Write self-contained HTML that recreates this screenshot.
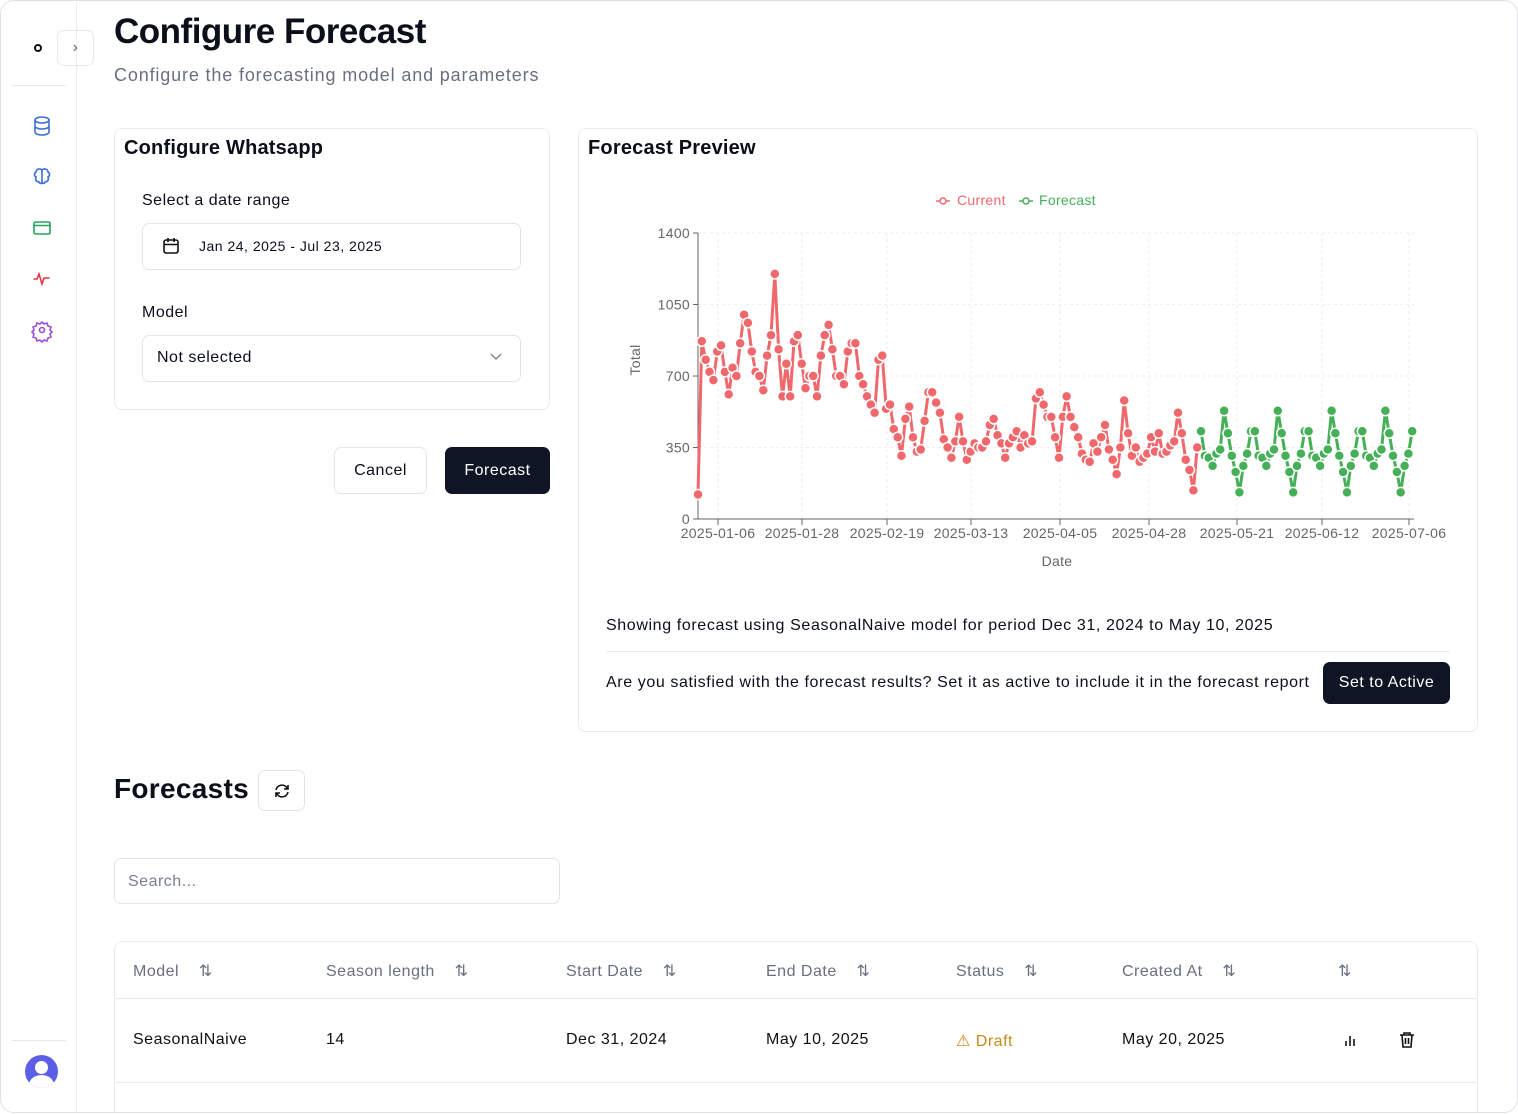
<!DOCTYPE html>
<html><head><meta charset="utf-8"><style>
*{box-sizing:border-box;margin:0;padding:0}
html,body{width:1518px;height:1114px;overflow:hidden}
body{background:#fff;font-family:"Liberation Sans",sans-serif;position:relative;color:#0b0f1a;letter-spacing:0.5px}
.a{position:absolute}
.frame{left:0;top:0;width:1518px;height:1113px;border:1.5px solid #dfe1e5;border-radius:14px;z-index:5;pointer-events:none}
.card{border:1px solid #e8eaee;border-radius:8px;background:#fff}
.btn{border-radius:7px;font-size:16px;display:flex;align-items:center;justify-content:center}
.th{font-size:16px;color:#68707f;top:961px}
.td{font-size:16px;color:#111;top:1031px}
</style></head><body>
<div class="a frame"></div>
<div class="a" style="left:76px;top:2px;width:1px;height:1110px;background:#eceef1"></div>
<div class="a" style="left:12px;top:85px;width:54px;height:1px;background:#e6e8eb"></div>
<div class="a" style="left:12px;top:1040px;width:54px;height:1px;background:#e6e8eb"></div>
<div class="a" style="left:34px;top:44px;width:8px;height:8px;border:2px solid #111;border-radius:50%"></div>
<div class="a btn" style="left:57px;top:30px;width:37px;height:36px;border:1px solid #e6e8eb;color:#666;font-size:16px">›</div>
<svg class="a" style="left:30px;top:114px" width="24" height="240" fill="none" stroke-width="1.6" stroke-linecap="round">
<g stroke="#3b6fd8"><ellipse cx="12" cy="6" rx="7" ry="3"/><path d="M5 6v12c0 1.7 3 3 7 3s7-1.3 7-3V6M5 12c0 1.7 3 3 7 3s7-1.3 7-3"/></g>
<g stroke="#3b6fd8" transform="translate(0,51)"><path d="M12 5c-2-2-6-1-6 2-2 1-2 4 0 5-1 2 0 5 3 5 1 2 3 2 3 0zM12 5c2-2 6-1 6 2 2 1 2 4 0 5 1 2 0 5-3 5-1 2-3 2-3 0z"/></g>
<g stroke="#22a55b" transform="translate(0,102)"><rect x="4" y="6" width="16" height="12" rx="1.5"/><path d="M4 9.5h16"/></g>
<g stroke="#e0363f" transform="translate(0,153)"><path d="M4 12h3l2-5 3 10 2-6h5"/></g>
<g stroke="#9b4fd8" transform="translate(0,204)"><circle cx="12" cy="12" r="2.5"/><path d="M12 4l2 2 3-1 1 3 3 1-1 3 2 2-2 2 1 3-3 1-1 3-3-1-2 2-2-2-3 1-1-3-3-1 1-3-2-2 2-2-1-3 3-1 1-3 3 1z"/></g>
</svg>
<div class="a" style="left:25px;top:1055px;width:33px;height:33px;border-radius:50%;background:#5b5fe6;overflow:hidden"><div class="a" style="left:10px;top:6px;width:13px;height:13px;border-radius:50%;background:#fff"></div><div class="a" style="left:4px;top:20px;width:25px;height:20px;border-radius:50%;background:#fff"></div></div>

<div class="a" style="left:114px;top:12px;font-size:35px;font-weight:bold;letter-spacing:-0.5px">Configure Forecast</div>
<div class="a" style="left:114px;top:65px;font-size:18px;color:#68707f;letter-spacing:0.85px">Configure the forecasting model and parameters</div>

<div class="a card" style="left:114px;top:128px;width:436px;height:282px"></div>
<div class="a" style="left:124px;top:137px;font-size:20px;font-weight:bold;letter-spacing:0.2px">Configure Whatsapp</div>
<div class="a" style="left:142px;top:192px;font-size:16px">Select a date range</div>
<div class="a" style="left:142px;top:223px;width:379px;height:47px;border:1px solid #e3e5e9;border-radius:7px"></div>
<svg class="a" style="left:162px;top:237px" width="18" height="18" fill="none" stroke="#111" stroke-width="1.6"><rect x="2" y="3" width="14" height="13" rx="2"/><path d="M2 7.5h14M6 1v4M12 1v4"/></svg>
<div class="a" style="left:199px;top:238px;font-size:14px">Jan 24, 2025 - Jul 23, 2025</div>
<div class="a" style="left:142px;top:304px;font-size:16px">Model</div>
<div class="a" style="left:142px;top:335px;width:379px;height:47px;border:1px solid #e3e5e9;border-radius:7px"></div>
<div class="a" style="left:157px;top:349px;font-size:16px">Not selected</div>
<svg class="a" style="left:489px;top:352px" width="14" height="10" fill="none" stroke="#888" stroke-width="1.5"><path d="M2 2l5 5 5-5"/></svg>
<div class="a btn" style="left:334px;top:447px;width:93px;height:47px;border:1px solid #e3e5e9">Cancel</div>
<div class="a btn" style="left:445px;top:447px;width:105px;height:47px;background:#0f1524;color:#fff">Forecast</div>

<div class="a card" style="left:578px;top:128px;width:900px;height:604px"></div>
<div class="a" style="left:588px;top:137px;font-size:20px;font-weight:bold;letter-spacing:0.2px">Forecast Preview</div>
<svg class="a" id="ch" style="left:578px;top:180px;letter-spacing:0.3px" width="900" height="400" font-family="Liberation Sans, sans-serif"></svg>
<div class="a" style="left:606px;top:617px;font-size:16px;letter-spacing:0.62px">Showing forecast using SeasonalNaive model for period Dec 31, 2024 to May 10, 2025</div>
<div class="a" style="left:606px;top:651px;width:844px;height:1px;background:#e8eaee"></div>
<div class="a" style="left:606px;top:674px;font-size:16px;letter-spacing:0.6px">Are you satisfied with the forecast results? Set it as active to include it in the forecast report</div>
<div class="a btn" style="left:1323px;top:662px;width:127px;height:42px;background:#0f1524;color:#fff">Set to Active</div>

<div class="a" style="left:114px;top:773px;font-size:28px;font-weight:bold;letter-spacing:0.3px">Forecasts</div>
<div class="a btn" style="left:258px;top:770px;width:47px;height:41px;border:1px solid #e3e5e9"><svg width="18" height="18" fill="none" stroke="#111" stroke-width="1.6"><path d="M3 8a6 6 0 0 1 11-2l1 1M15 10a6 6 0 0 1-11 2l-1-1M15 3v4h-4M3 15v-4h4"/></svg></div>
<div class="a" style="left:114px;top:858px;width:446px;height:46px;border:1px solid #e3e5e9;border-radius:7px"></div>
<div class="a" style="left:128px;top:873px;font-size:16px;color:#7a818e">Search...</div>

<div class="a" style="left:114px;top:941px;width:1364px;height:172px;border:1px solid #e8eaee;border-bottom:none;border-radius:8px 8px 0 0"></div>
<div class="a" style="left:114px;top:998px;width:1364px;height:1px;background:#e8eaee"></div>
<div class="a" style="left:114px;top:1082px;width:1364px;height:1px;background:#e8eaee"></div>
<div class="a th" style="left:133px">Model &nbsp;&nbsp; ⇅</div>
<div class="a th" style="left:326px">Season length &nbsp;&nbsp; ⇅</div>
<div class="a th" style="left:566px">Start Date &nbsp;&nbsp; ⇅</div>
<div class="a th" style="left:766px">End Date &nbsp;&nbsp; ⇅</div>
<div class="a th" style="left:956px">Status &nbsp;&nbsp; ⇅</div>
<div class="a th" style="left:1122px">Created At &nbsp;&nbsp; ⇅</div>
<div class="a th" style="left:1338px">⇅</div>
<div class="a td" style="left:133px">SeasonalNaive</div>
<div class="a td" style="left:326px">14</div>
<div class="a td" style="left:566px">Dec 31, 2024</div>
<div class="a td" style="left:766px">May 10, 2025</div>
<div class="a td" style="left:956px;color:#c98a1a">⚠ Draft</div>
<div class="a td" style="left:1122px">May 20, 2025</div>
<svg class="a" style="left:1343px;top:1032px" width="16" height="16" stroke="#111" stroke-width="1.6"><path d="M3 14V9M7 14V4M11 14V7"/></svg>
<svg class="a" style="left:1398px;top:1031px" width="18" height="18" fill="none" stroke="#111" stroke-width="1.6"><path d="M2 4h14M6 4V2h6v2M4 4l1 12h8l1-12M7.5 7v6M10.5 7v6"/></svg>

<script>
var cur=[120,870,780,720,680,820,850,720,610,740,700,860,1000,960,820,720,700,630,800,900,1200,830,600,760,600,870,900,760,640,700,700,600,
800,900,950,830,700,700,660,820,860,860,700,660,600,560,520,780,800,540,560,440,400,310,490,550,400,330,340,480,
620,620,570,520,390,350,300,380,500,380,290,330,370,350,350,380,460,490,410,370,300,370,400,430,350,410,370,380,590,620,560,
500,500,400,300,500,600,500,450,400,320,290,280,370,330,400,460,340,290,220,350,580,420,310,350,280,300,320,400,330,420,
320,330,360,380,520,420,290,240,140,350];
var pat=[430,310,300,260,320,340,530,420,310,230,130,260,320,430];
var fc=[];for(var k=0;k<56;k++)fc.push(pat[k%14]);
var X0=698,Y0=519,dx=3.84,sy=286/1400,s='';
function X(i){return X0+i*dx-578}function Y(v){return Y0-v*sy-180}
[0,350,700,1050,1400].forEach(function(v){s+='<line x1="'+(X0-578)+'" x2="'+(1414-578)+'" y1="'+Y(v)+'" y2="'+Y(v)+'" stroke="#eee" stroke-dasharray="3 3"/>';
s+='<line x1="'+(X0-578-5)+'" x2="'+(X0-578)+'" y1="'+Y(v)+'" y2="'+Y(v)+'" stroke="#666"/>';
s+='<text x="'+(X0-578-8)+'" y="'+(Y(v)+5)+'" font-size="14" fill="#666" text-anchor="end">'+v+'</text>';});
var tx=[[718,'2025-01-06'],[802,'2025-01-28'],[887,'2025-02-19'],[971,'2025-03-13'],[1060,'2025-04-05'],[1149,'2025-04-28'],[1237,'2025-05-21'],[1322,'2025-06-12'],[1409,'2025-07-06']];
tx.forEach(function(t){var x=t[0]-578;s+='<line x1="'+x+'" x2="'+x+'" y1="'+Y(1400)+'" y2="'+Y(0)+'" stroke="#eee" stroke-dasharray="3 3"/><line x1="'+x+'" x2="'+x+'" y1="'+Y(0)+'" y2="'+(Y(0)+6)+'" stroke="#666"/><text x="'+x+'" y="'+(Y(0)+19)+'" font-size="14" fill="#666" text-anchor="middle">'+t[1]+'</text>';});
s+='<line x1="'+(X0-578)+'" x2="'+(X0-578)+'" y1="'+Y(1400)+'" y2="'+Y(0)+'" stroke="#666"/><line x1="'+(X0-578)+'" x2="'+(1414-578)+'" y1="'+Y(0)+'" y2="'+Y(0)+'" stroke="#666"/>';
s+='<text x="479" y="386" font-size="14" fill="#666" text-anchor="middle">Date</text>';
s+='<text transform="translate(62,180) rotate(-90)" font-size="14" fill="#666" text-anchor="middle">Total</text>';
function ser(arr,off,c){var p='';arr.forEach(function(v,i){p+=(i?'L':'M')+X(i+off).toFixed(1)+' '+Y(v).toFixed(1)});
var r='<path d="'+p+'" fill="none" stroke="'+c+'" stroke-width="3"/>';arr.forEach(function(v,i){r+='<circle cx="'+X(i+off).toFixed(1)+'" cy="'+Y(v).toFixed(1)+'" r="5" fill="'+c+'" stroke="#fff" stroke-width="1.5"/>'});return r;}
s+=ser(cur,0,'#f0686b')+ser(fc,cur.length,'#45b057');
s+='<path d="M358 21h14" stroke="#f0686b" stroke-width="1.5"/><circle cx="365" cy="21" r="3" fill="#fff" stroke="#f0686b" stroke-width="1.5"/><text x="379" y="25" font-size="14" fill="#f0686b">Current</text>';
s+='<path d="M441 21h14" stroke="#45b057" stroke-width="1.5"/><circle cx="448" cy="21" r="3" fill="#fff" stroke="#45b057" stroke-width="1.5"/><text x="461" y="25" font-size="14" fill="#45b057">Forecast</text>';
document.getElementById('ch').innerHTML=s;
</script>
</body></html>
